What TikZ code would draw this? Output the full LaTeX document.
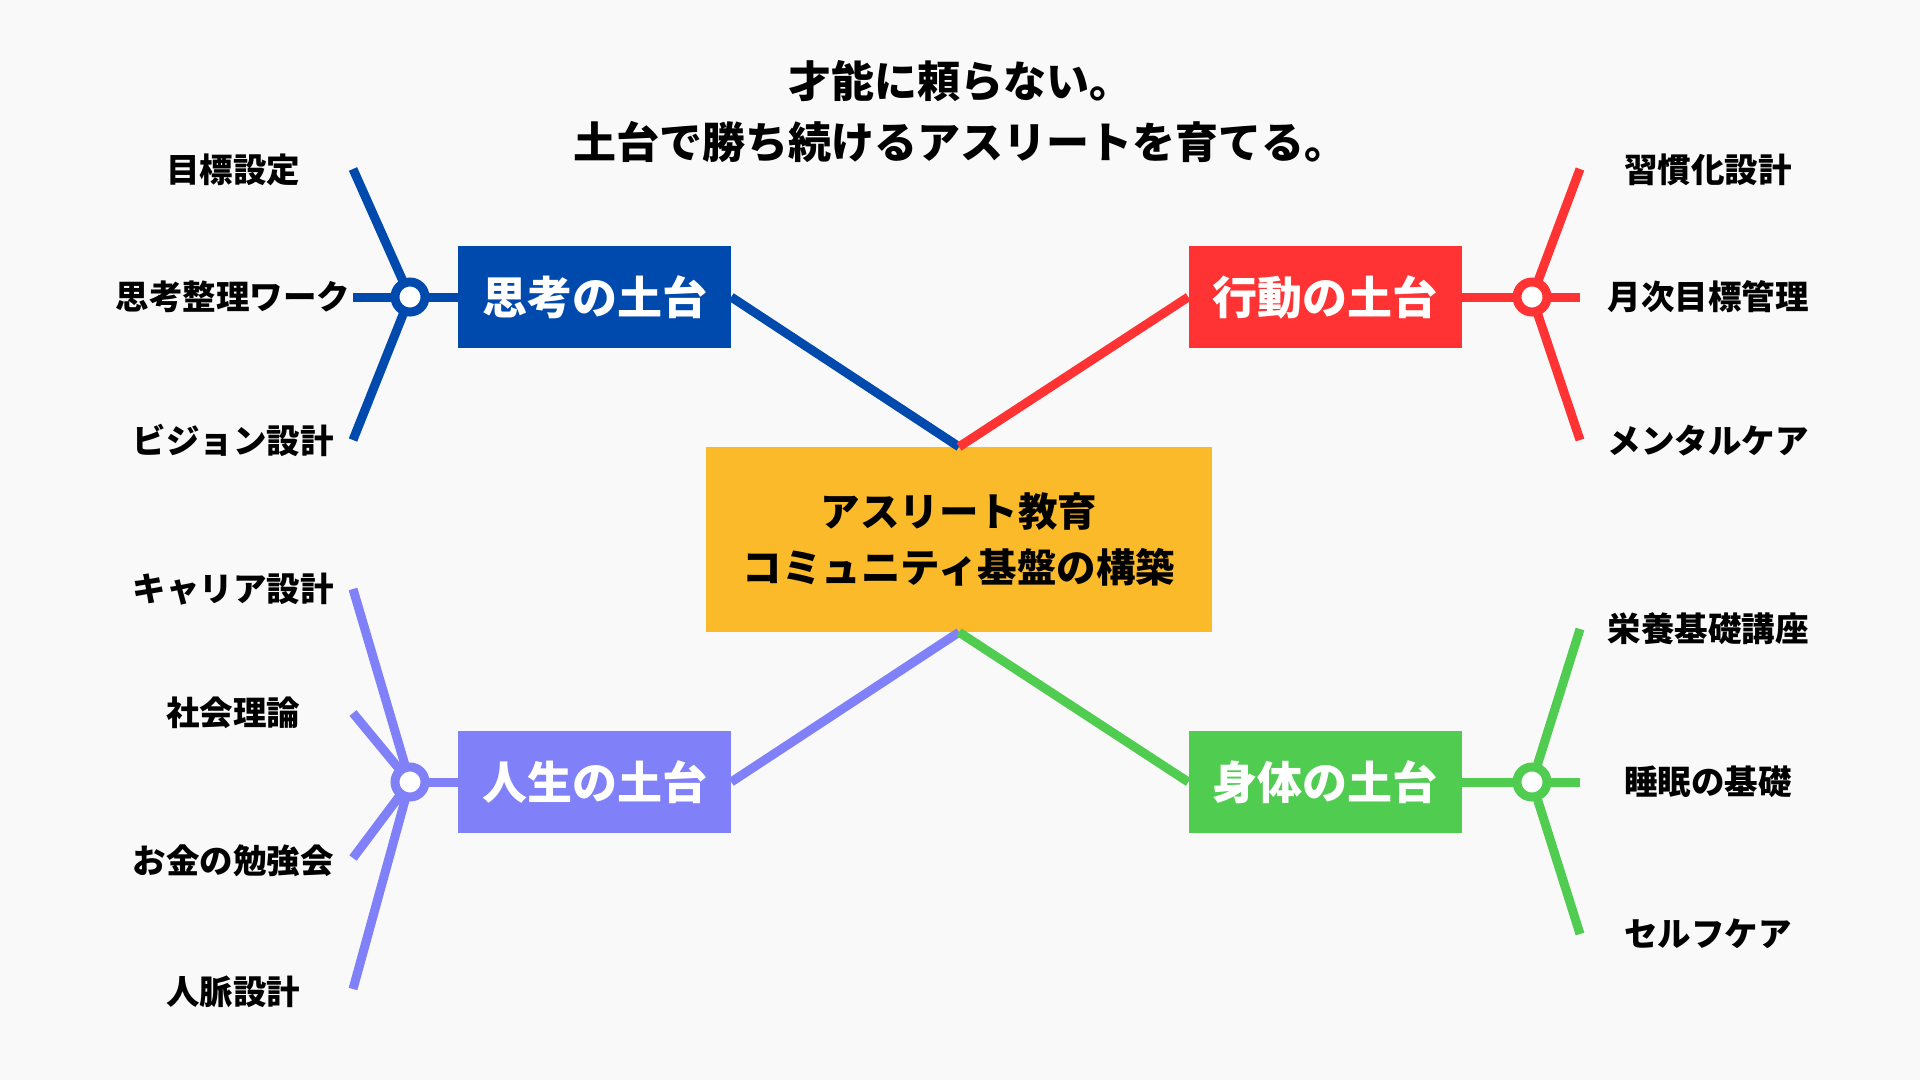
\documentclass[tikz,border=0pt]{standalone}
\usepackage{fontspec}
\setmainfont{Noto Sans CJK JP}
\definecolor{cblue}{HTML}{004AAD}
\definecolor{cred}{HTML}{FF3333}
\definecolor{cpurple}{HTML}{8080F8}
\definecolor{cgreen}{HTML}{50CC50}
\definecolor{cyellow}{HTML}{FBBA2A}
\definecolor{bgc}{HTML}{F9F9F9}
\begin{document}
\begin{tikzpicture}[x=1pt,y=-1pt,
  catbox/.style={minimum width=273pt,minimum height=102pt,inner sep=0pt,text=white,font=\fontsize{45}{50}\selectfont\bfseries},
  hubnode/.style={circle,draw=#1,fill=white,line width=9pt,minimum size=30pt,inner sep=0pt},
  conn/.style={draw=#1,line width=9pt},
  leaf/.style={font=\fontsize{33.5}{38}\selectfont\bfseries,text=black,inner sep=0pt}
]
\fill[bgc] (0,0) rectangle (1920,1080);
\useasboundingbox (0,0) rectangle (1920,1080);

% title
\node[font=\fontsize{43}{61}\selectfont\bfseries,align=center,inner sep=0pt] (title) at (960,111.5)
  {才能に頼らない。\\土台で勝ち続けるアスリートを育てる。};

% core
\node[fill=cyellow,minimum width=506pt,minimum height=185pt,inner sep=0pt,align=center,
  font=\fontsize{39.5}{56}\selectfont\bfseries] (core) at (959,539.5)
  {アスリート教育\\コミュニティ基盤の構築};

% category boxes
\node[catbox,fill=cblue] (think) at (594.5,297) {思考の土台};
\node[catbox,fill=cred] (act) at (1325,297) {行動の土台};
\node[catbox,fill=cpurple] (life) at (594.5,782) {人生の土台};
\node[catbox,fill=cgreen] (body) at (1325,782) {身体の土台};

% core connectors
\draw[conn=cblue] (core.north) -- (think.east);
\draw[conn=cred] (core.north) -- (act.west);
\draw[conn=cpurple] (core.south) -- (life.east);
\draw[conn=cgreen] (core.south) -- (body.west);

% hub positions and branch ends
\coordinate (hT) at (410,297);
\coordinate (hA) at (1532,297);
\coordinate (hL) at (410,782);
\coordinate (hB) at (1532,782);

\coordinate (t1) at (353,169);
\coordinate (t2) at (353,297);
\coordinate (t3) at (353,440);
\coordinate (a1) at (1580,169);
\coordinate (a2) at (1580,297);
\coordinate (a3) at (1580,440);
\coordinate (l1) at (353,589);
\coordinate (l2) at (353,713);
\coordinate (l3) at (353,858);
\coordinate (l4) at (353,989);
\coordinate (b1) at (1580,629);
\coordinate (b2) at (1580,782);
\coordinate (b3) at (1580,934);

\draw[conn=cblue] (think.west) -- (hT);
\foreach \e in {t1,t2,t3} \draw[conn=cblue] (hT) -- (\e);
\draw[conn=cred] (act.east) -- (hA);
\foreach \e in {a1,a2,a3} \draw[conn=cred] (hA) -- (\e);
\draw[conn=cpurple] (life.west) -- (hL);
\foreach \e in {l1,l2,l3,l4} \draw[conn=cpurple] (hL) -- (\e);
\draw[conn=cgreen] (body.east) -- (hB);
\foreach \e in {b1,b2,b3} \draw[conn=cgreen] (hB) -- (\e);

\node[hubnode=cblue] (hubT) at (hT) {};
\node[hubnode=cred] (hubA) at (hA) {};
\node[hubnode=cpurple] (hubL) at (hL) {};
\node[hubnode=cgreen] (hubB) at (hB) {};

% leaf labels
\node[leaf] (lt1) at (233,170) {目標設定};
\node[leaf] (lt2) at (233,297) {思考整理ワーク};
\node[leaf] (lt3) at (233,440) {ビジョン設計};
\node[leaf] (la1) at (1708,170) {習慣化設計};
\node[leaf] (la2) at (1708,297) {月次目標管理};
\node[leaf] (la3) at (1708,441) {メンタルケア};
\node[leaf] (ll1) at (233,589) {キャリア設計};
\node[leaf] (ll2) at (233,713) {社会理論};
\node[leaf] (ll3) at (233,861) {お金の勉強会};
\node[leaf] (ll4) at (233,992) {人脈設計};
\node[leaf] (lb1) at (1708,629) {栄養基礎講座};
\node[leaf] (lb2) at (1708,782) {睡眠の基礎};
\node[leaf] (lb3) at (1708,934) {セルフケア};
\end{tikzpicture}
\end{document}
